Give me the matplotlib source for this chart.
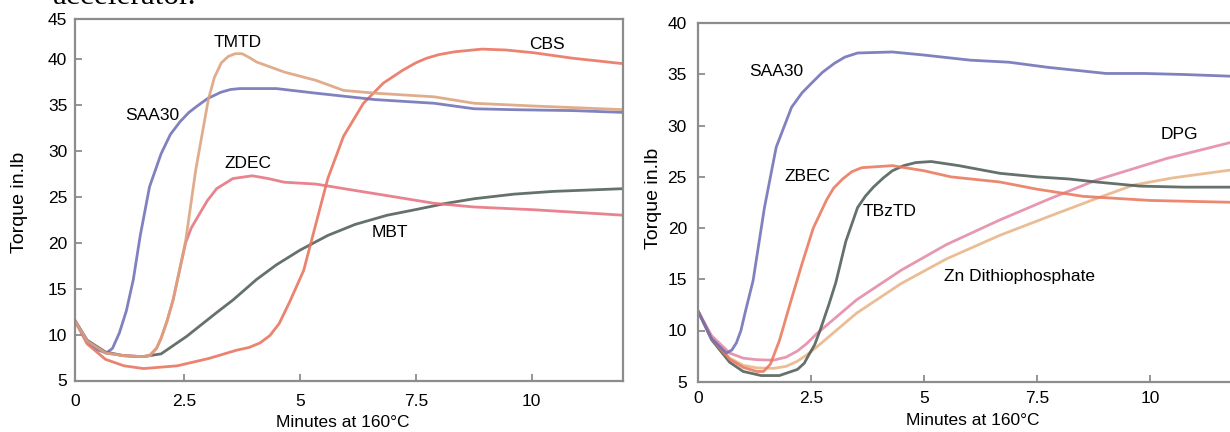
import matplotlib
matplotlib.use("Agg")
import matplotlib.pyplot as plt

plt.rcParams['font.family'] = ['Liberation Sans', 'DejaVu Sans']

# ---------------- Left panel data ----------------
L_saa30_x = [0.12, 0.4, 0.65, 0.82, 0.95, 1.1, 1.25, 1.4, 1.55, 1.75, 2.0, 2.2, 2.41, 2.6, 2.78, 3.0, 3.29, 3.5, 3.7, 4.49, 5.34, 6.62, 7.9, 8.76, 9.62, 10.9, 12.0]
L_saa30_y = [11.7, 9.3, 8.3, 8.0, 8.5, 10.2, 12.6, 16.0, 20.8, 26.1, 29.7, 31.8, 33.2, 34.2, 34.9, 35.7, 36.4, 36.7, 36.8, 36.8, 36.3, 35.6, 35.2, 34.6, 34.5, 34.4, 34.2]

L_tmtd_x = [0.12, 0.4, 0.8, 1.2, 1.6, 1.75, 1.9, 2.0, 2.13, 2.26, 2.53, 2.75, 3.02, 3.15, 3.3, 3.45, 3.6, 3.75, 3.9, 4.06, 4.66, 5.34, 5.94, 6.62, 7.9, 8.76, 10.05, 12.0]
L_tmtd_y = [11.7, 9.3, 8.0, 7.7, 7.6, 7.7, 8.5, 9.6, 11.5, 13.8, 20.2, 28.0, 35.6, 38.0, 39.6, 40.3, 40.6, 40.6, 40.2, 39.7, 38.6, 37.7, 36.6, 36.3, 35.9, 35.2, 34.9, 34.5]

L_zdec_x = [0.12, 0.4, 0.8, 1.2, 1.6, 1.75, 1.9, 2.0, 2.13, 2.26, 2.53, 2.65, 2.8, 3.0, 3.2, 3.55, 3.97, 4.31, 4.66, 5.34, 6.19, 7.05, 7.9, 8.76, 10.05, 12.0]
L_zdec_y = [11.7, 9.3, 8.0, 7.7, 7.6, 7.7, 8.5, 9.6, 11.5, 13.8, 20.0, 21.6, 22.9, 24.6, 25.9, 27.0, 27.3, 27.0, 26.6, 26.4, 25.7, 25.0, 24.3, 23.9, 23.6, 23.0]

L_cbs_x = [0.12, 0.4, 0.8, 1.2, 1.62, 2.35, 3.03, 3.63, 3.9, 4.14, 4.35, 4.55, 4.78, 5.08, 5.34, 5.6, 5.94, 6.37, 6.8, 7.22, 7.5, 7.73, 8.0, 8.33, 8.93, 9.45, 10.05, 10.9, 12.0]
L_cbs_y = [11.7, 9.0, 7.3, 6.6, 6.3, 6.6, 7.4, 8.3, 8.6, 9.1, 9.9, 11.2, 13.6, 17.0, 22.0, 27.0, 31.6, 35.2, 37.4, 38.8, 39.6, 40.1, 40.5, 40.8, 41.1, 41.0, 40.7, 40.1, 39.5]

L_mbt_x = [0.12, 0.4, 0.8, 1.2, 1.6, 2.0, 2.55, 3.2, 3.56, 4.06, 4.49, 5.0, 5.6, 6.19, 6.88, 7.48, 8.16, 8.76, 9.62, 10.47, 12.0]
L_mbt_y = [11.7, 9.4, 8.1, 7.7, 7.6, 7.9, 9.8, 12.4, 13.8, 16.0, 17.6, 19.2, 20.8, 22.0, 23.0, 23.6, 24.3, 24.8, 25.3, 25.6, 25.9]

# ---------------- Right panel data ----------------
R_saa30_x = [0.0, 0.3, 0.63, 0.75, 0.85, 0.95, 1.04, 1.22, 1.47, 1.73, 2.07, 2.3, 2.5, 2.75, 3.02, 3.25, 3.53, 4.3, 5.0, 6.02, 6.88, 7.74, 8.6, 9.03, 9.89, 10.75, 12.0]
R_saa30_y = [11.9, 9.2, 7.8, 8.1, 8.8, 10.0, 11.7, 14.9, 22.0, 27.9, 31.8, 33.2, 34.1, 35.2, 36.1, 36.7, 37.1, 37.2, 36.9, 36.4, 36.2, 35.7, 35.3, 35.1, 35.1, 35.0, 34.8]

R_zbec_x = [0.0, 0.3, 0.7, 1.0, 1.3, 1.45, 1.6, 1.8, 2.05, 2.3, 2.55, 2.85, 3.0, 3.2, 3.4, 3.62, 4.3, 5.0, 5.6, 6.68, 7.5, 8.52, 10.0, 12.0]
R_zbec_y = [11.9, 9.2, 7.2, 6.4, 6.0, 6.0, 6.7, 9.0, 12.8, 16.5, 20.0, 22.8, 23.9, 24.8, 25.5, 25.9, 26.1, 25.6, 25.0, 24.5, 23.8, 23.1, 22.7, 22.5]

R_tbztd_x = [0.0, 0.3, 0.7, 1.0, 1.4, 1.8, 2.2, 2.35, 2.45, 2.58, 2.7, 2.9, 3.05, 3.27, 3.53, 3.7, 3.88, 4.1, 4.3, 4.55, 4.82, 5.16, 5.77, 6.68, 7.5, 8.2, 8.82, 9.78, 10.75, 12.0]
R_tbztd_y = [11.9, 9.1, 6.9, 6.0, 5.6, 5.6, 6.2, 6.8, 7.6, 8.6, 10.0, 12.6, 14.7, 18.7, 22.0, 23.1, 24.0, 24.9, 25.6, 26.1, 26.4, 26.5, 26.1, 25.35, 25.0, 24.8, 24.5, 24.1, 24.0, 24.0]

R_dpg_x = [0.0, 0.3, 0.7, 1.0, 1.3, 1.67, 1.95, 2.2, 2.4, 2.63, 3.51, 4.5, 5.5, 6.68, 7.8, 8.82, 10.37, 12.0]
R_dpg_y = [11.9, 9.5, 7.8, 7.3, 7.15, 7.1, 7.4, 8.0, 8.7, 9.7, 13.0, 15.9, 18.4, 20.8, 22.9, 24.7, 26.8, 28.6]

R_zn_x = [0.0, 0.3, 0.7, 1.0, 1.3, 1.67, 1.95, 2.2, 2.4, 2.63, 3.51, 4.5, 5.5, 6.68, 7.8, 8.82, 9.63, 10.5, 12.0]
R_zn_y = [11.9, 9.3, 7.3, 6.6, 6.35, 6.3, 6.5, 7.0, 7.6, 8.4, 11.7, 14.6, 17.0, 19.3, 21.2, 22.9, 24.2, 24.9, 25.8]

left_names = ["SAA30", "TMTD", "ZDEC", "CBS", "MBT"]
right_names = ["SAA30", "ZBEC", "TBzTD", "DPG", "Zn Dithiophosphate"]
y_ticks_left = [5, 10, 15, 20, 25, 30, 35, 40, 45]
y_ticks_right = [5, 10, 15, 20, 25, 30, 35, 40]
x_ticks = [0, 2.5, 5, 7.5, 10]

C_BLUE = "#6f70b6"
C_TAN = "#dca27c"
C_PINKRED = "#e6727f"
C_RED = "#e9725c"
C_DARK = "#505e56"
C_ORANGE = "#ea785c"
C_PINK = "#e48aa6"
C_LTAN = "#e9b487"
GRAY = "#8c8c8c"

W, H = 1230, 432
fig = plt.figure(figsize=(W / 100, H / 100), dpi=100)
fig.patch.set_facecolor("white")

fig.text(53 / W, 1 - 3.5 / H, "accelerator.", family="Liberation Serif",
         fontsize=22.5, va="baseline", ha="left", color="black")


def style_axes(ax, xpad, ypad):
    for s in ax.spines.values():
        s.set_color(GRAY)
        s.set_linewidth(1.6)
    ax.tick_params(direction="in", length=5, width=1.3, color=GRAY,
                   labelsize=12.5, labelcolor="black")
    ax.tick_params(axis="x", pad=xpad)
    ax.tick_params(axis="y", pad=ypad)
    ax.set_facecolor("white")


line_kw = dict(lw=2.0, alpha=0.88, solid_joinstyle="round", solid_capstyle="round")

# ---------------- Left axes ----------------
lx0, lx1 = 75, 623
ly_bot, ly_top = 380.5, 19
axL = fig.add_axes([lx0 / W, (H - ly_bot) / H, (lx1 - lx0) / W, (ly_bot - ly_top) / H])
xl = ((lx0 - 68.5) / 46.3, (lx1 - 68.5) / 46.3)
ylt = 5 + (ly_bot - ly_top) / 9.18
axL.set_xlim(*xl)
axL.set_ylim(5, ylt)
axL.plot(L_mbt_x, L_mbt_y, color=C_DARK, **line_kw)
axL.plot(L_cbs_x, L_cbs_y, color=C_RED, **line_kw)
axL.plot(L_zdec_x, L_zdec_y, color=C_PINKRED, **line_kw)
axL.plot(L_saa30_x, L_saa30_y, color=C_BLUE, **line_kw)
axL.plot(L_tmtd_x, L_tmtd_y, color=C_TAN, **line_kw)
style_axes(axL, 9.5, 5.5)
xt_left = [max(v, xl[0]) for v in x_ticks]
axL.set_xticks(xt_left)
axL.set_xticklabels([f"{v:g}" for v in x_ticks])
yt_left = [min(v, ylt) for v in y_ticks_left]
axL.set_yticks(yt_left)
axL.set_yticklabels([str(v) for v in y_ticks_left])
axL.set_xlabel("Minutes at 160°C", fontsize=12.5)
axL.xaxis.set_label_coords((343 - lx0) / (lx1 - lx0), -(422.5 - ly_bot) / (ly_bot - ly_top))
axL.xaxis.label.set_va("center")
axL.set_ylabel("Torque in.lb", fontsize=14)
axL.yaxis.set_label_coords(-(lx0 - 20) / (lx1 - lx0), (ly_bot - 202.5) / (ly_bot - ly_top))
axL.yaxis.label.set_va("center")

ann = dict(fontsize=12.5, ha="center", va="center", color="black")
axL.text(3.65, 41.8, left_names[1], **ann)
axL.text(10.33, 41.65, left_names[3], **ann)
axL.text(1.80, 33.9, left_names[0], **ann)
axL.text(3.88, 28.6, left_names[2], **ann)
axL.text(6.94, 21.1, left_names[4], **ann)

# ---------------- Right axes ----------------
rx0 = 698
ppm = 45.2
ry_bot, ry_top = 381.7, 23.3
rxmax = 12.0
axR = fig.add_axes([rx0 / W, (H - ry_bot) / H, rxmax * ppm / W, (ry_bot - ry_top) / H])
axR.set_xlim(0, rxmax)
axR.set_ylim(5, 40)
axR.plot(R_zn_x, R_zn_y, color=C_LTAN, **line_kw)
axR.plot(R_dpg_x, R_dpg_y, color=C_PINK, **line_kw)
axR.plot(R_tbztd_x, R_tbztd_y, color=C_DARK, **line_kw)
axR.plot(R_zbec_x, R_zbec_y, color=C_ORANGE, **line_kw)
axR.plot(R_saa30_x, R_saa30_y, color=C_BLUE, **line_kw)
style_axes(axR, 6.5, 8)
axR.set_xticks(x_ticks)
axR.set_xticklabels([f"{v:g}" for v in x_ticks])
axR.set_yticks(y_ticks_right)
axR.set_yticklabels([str(v) for v in y_ticks_right])
rwidth = rxmax * ppm
axR.set_xlabel("Minutes at 160°C", fontsize=12.5)
axR.xaxis.set_label_coords((973 - rx0) / rwidth, -(420.7 - ry_bot) / (ry_bot - ry_top))
axR.xaxis.label.set_va("center")
axR.set_ylabel("Torque in.lb", fontsize=14)
axR.yaxis.set_label_coords(-(rx0 - 653) / rwidth, (ry_bot - 198) / (ry_bot - ry_top))
axR.yaxis.label.set_va("center")

axR.text(1.73, 35.3, right_names[0], **ann)
axR.text(2.43, 25.0, right_names[1], **ann)
axR.text(4.25, 21.6, right_names[2], **ann)
axR.text(10.66, 29.1, right_names[3], **ann)
axR.text(7.12, 15.3, right_names[4], **ann)

fig.savefig("out.png", dpi=100)
